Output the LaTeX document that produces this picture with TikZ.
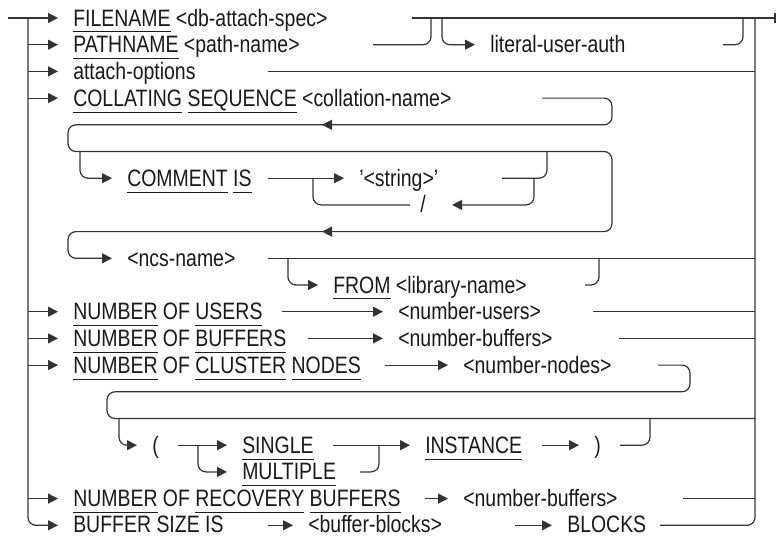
\documentclass[tikz,border=0pt]{standalone}
\usepackage{fontspec}
\newfontfamily\rrfont{Liberation Sans}[FakeStretch=0.82,Ligatures=TeX]
\usetikzlibrary{arrows.meta}
\newcommand\ulw[1]{\setbox0=\hbox{#1}\rlap{\rule[-4.8pt]{\wd0}{0.75pt}}\box0\relax}

\begin{document}
\begin{tikzpicture}[
    x=0.75pt,
    y=-20.025pt,
    rr/.style={draw=black!80, line width=0.9pt},
    arr/.style={
      rr,
      -{Triangle[length=7.5pt,width=7.5pt]},
      shorten >=11.25pt
    },
    backtip/.style={rr, -{Triangle[length=7.5pt,width=7.5pt]}},
    rnd/.style={rounded corners=6pt},
    tok/.style={
      anchor=west,
      inner sep=0pt,
      text height=12pt,
      text depth=0pt,
      font=\rrfont\fontsize{17.8}{20}\selectfont,
      text=black!90
    },
    lasttok/.style={tok, text height=10.5pt}
  ]
  \useasboundingbox (0,-0.6742) rectangle (776,19.4007);

  \coordinate (L) at (28,0);
  \coordinate (R) at (755,0);

  \node[tok] (fn) at (73,0) {\ulw{FILENAME} <db-attach-spec>};
  \node[tok] (pn) at (73,1) {\ulw{PATHNAME} <path-name>};
  \node[tok] (ao) at (73,2) {attach-options};
  \node[tok] (cs) at (73,3) {\ulw{COLLATING} \ulw{SEQUENCE} <collation-name>};
  \node[tok] (lua) at (490,1) {literal-user-auth};
  \node[tok] (cm) at (127,6) {\ulw{COMMENT} \ulw{IS}};
  \node[tok] (str) at (359,6) {'<string>'};
  \node[tok] (sl) at (420,7) {/};
  \node[tok] (ncs) at (127,9) {<ncs-name>};
  \node[tok] (fr) at (333,10) {\ulw{FROM} <library-name>};
  \node[tok] (nu) at (73,11) {\ulw{NUMBER} OF \ulw{USERS}};
  \node[tok] (nus) at (398,11) {<number-users>};
  \node[tok] (nb) at (73,12) {\ulw{NUMBER} OF \ulw{BUFFERS}};
  \node[tok] (nbs) at (398,12) {<number-buffers>};
  \node[tok] (nc) at (73,13) {\ulw{NUMBER} OF \ulw{CLUSTER} \ulw{NODES}};
  \node[tok] (ncn) at (463,13) {<number-nodes>};
  \node[tok] (lp) at (152,16) {(};
  \node[tok] (si) at (242,16) {\ulw{SINGLE}};
  \node[tok] (mu) at (242,17) {\ulw{MULTIPLE}};
  \node[tok] (ins) at (425,16) {\ulw{INSTANCE}};
  \node[tok] (rp) at (594,16) {)};
  \node[tok] (nr) at (73,18) {\ulw{NUMBER} OF \ulw{RECOVERY} \ulw{BUFFERS}};
  \node[tok] (nrb) at (463,18) {<number-buffers>};
  \node[lasttok] (bs) at (73,19) {BUFFER SIZE IS};
  \node[lasttok] (bb) at (308,19) {<buffer-blocks>};
  \node[lasttok] (bl) at (567,19) {BLOCKS};

  % rails
  \draw[arr] (8,0) -- (fn);
  \draw[arr, rnd] (L) |- (bs);
  \foreach \t in {pn,ao,cs,nu,nb,nc,nr}
    \draw[arr] (\t -| L) -- (\t);
  \draw[rr] (412,0) -- (775,0);
  \draw[rr] (775,-0.17) -- (775,0.17);
  \draw[rr, rnd] (660,19) -| (R);

  % file spec
  \draw[rr, rnd] (373,1) -| (431,0);
  \draw[arr, rnd] (442,0) |- (lua);
  \draw[rr, rnd] (723,1) -| (743,0);
  \draw[rr] (268,2) -- (R |- ao);

  % collating sequence
  \draw[arr, rnd] (542,3) -- (612,3) -- (612,4) -- (68,4) -- (68,5)
    -- (612,5) -- (612,8) -- (68,8) -- (68,9) -- (ncs);
  \draw[backtip] (345,4) -- (322,4);
  \draw[backtip] (345,8) -- (322,8);
  \draw[arr, rnd] (80,5) |- (cm);
  \draw[arr] (268,6) -- (str);
  \draw[rr, rnd] (502,6) -| (547,5);
  \draw[backtip, rnd] (534,6) |- (452,7);
  \draw[rr, rnd] (410,7) -| (313,6);
  \draw[rr] (268,9) -- (R |- ncs);
  \draw[arr, rnd] (288,9) |- (fr);
  \draw[rr, rnd] (585,10) -| (599,9);

  % numbers
  \draw[arr] (282,11) -- (nus);
  \draw[rr] (593,11) -- (R |- nus);
  \draw[arr] (308,12) -- (nbs);
  \draw[rr] (619,12) -- (R |- nbs);
  \draw[arr] (385,13) -- (ncn);
  \draw[rr, rnd] (658,13) -- (690,13) -- (690,14) -- (107,14) -- (107,15)
    -- (755,15);
  \draw[arr, rnd] (119,15) |- (lp);
  \draw[arr] (178,16) -- (si);
  \draw[arr, rnd] (198,16) |- (mu);
  \draw[arr] (333,16) -- (ins);
  \draw[rr, rnd] (360,17) -| (379,16);
  \draw[arr] (542,16) -- (rp);
  \draw[rr, rnd] (620,16) -| (650,15);
  \draw[arr] (425,18) -- (nrb);
  \draw[rr] (683,18) -- (R |- nrb);
  \draw[arr] (268,19) -- (bb);
  \draw[arr] (515,19) -- (bl);
\end{tikzpicture}
\end{document}
